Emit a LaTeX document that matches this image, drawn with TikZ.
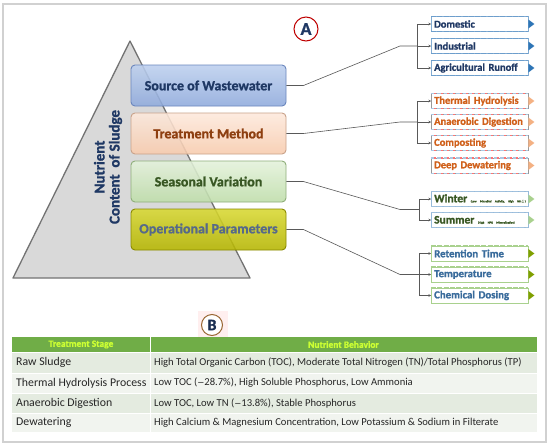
\documentclass[tikz,border=0pt]{standalone}
\usepackage{fontspec}
\setmainfont{Carlito}[BoldFeatures={FakeBold=1.2}]
\usetikzlibrary{arrows.meta,calc}
\definecolor{navy}{HTML}{1F3864}
\definecolor{srcT}{HTML}{BDD0EE}\definecolor{srcB}{HTML}{8FAADC}\definecolor{srcD}{HTML}{6A86BD}
\definecolor{trtT}{HTML}{FDE9DC}\definecolor{trtB}{HTML}{F8CBAD}\definecolor{trtD}{HTML}{C9A28A}\definecolor{trtX}{HTML}{8E3F10}
\definecolor{seaT}{HTML}{E4F2DB}\definecolor{seaB}{HTML}{BEDDA9}\definecolor{seaD}{HTML}{8FAE7A}\definecolor{seaX}{HTML}{385723}
\definecolor{opT}{HTML}{D8D832}\definecolor{opB}{HTML}{B5B500}\definecolor{opD}{HTML}{8A8A00}\definecolor{opX}{HTML}{56698A}
\definecolor{orangeX}{HTML}{D0601A}\definecolor{blueX}{HTML}{2E75B6}\definecolor{steel}{HTML}{3A6C9C}
\definecolor{tipPeach}{HTML}{F4B183}\definecolor{tipGreen}{HTML}{A9D18E}\definecolor{tipOlive}{HTML}{7F9F00}
\definecolor{hdr}{HTML}{70AD47}\definecolor{hdrtxt}{HTML}{CCFF33}
\definecolor{rowA}{HTML}{E4EBE0}\definecolor{rowB}{HTML}{F1F4EF}
\tikzset{
  bar/.style={rounded corners=4pt, line width=0.9pt, minimum width=155pt, minimum height=41pt,
    font=\bfseries\fontsize{14}{16}\selectfont, fill opacity=0.88, text opacity=1},
  rbox/.style={draw=#1, fill=white, line width=0.4pt, minimum height=15pt, text width=91pt,
    inner xsep=3pt, inner ysep=0pt, align=left, anchor=west, font=\bfseries\fontsize{10.5}{11}\selectfont},
  dashl/.style={line width=1.4pt, dash pattern=on 5pt off 1.3pt},
  conn/.style={draw=black!65, line width=0.6pt},
  arr/.style={conn, -{Stealth[length=2.5pt,width=2.5pt]}},
  cell/.style={anchor=west, inner sep=0pt, font=\fontsize{10.6}{11}\selectfont, text=black!85},
  cella/.style={cell, font=\fontsize{11.8}{12}\selectfont},
  hcell/.style={inner sep=0pt, font=\bfseries\fontsize{9.5}{10}\selectfont, text=hdrtxt}
}
\newcommand{\tipR}[2]{\fill[#2] ([yshift=4.5pt]#1.east) -- ([xshift=6pt]#1.east) -- ([yshift=-4.5pt]#1.east) -- cycle;}
\begin{document}
\begin{tikzpicture}[x=1pt,y=-1pt]
\useasboundingbox (0,0) rectangle (550,445);
\fill[white] (0,0) rectangle (550,445);
\draw[black!18, line width=1.5pt] (3,4) rectangle (546,442);

% triangle
\draw[fill=black!15, draw=black!55, line width=1.3pt, line join=round] (130,41) -- (250,278) -- (13,278) -- cycle;
\node[rotate=90, align=center, text=navy, font=\bfseries\fontsize{15}{15}\selectfont] (title) at (108,167) {Nutrient\\Content\ \ of Sludge};

% bars
\node[bar, top color=srcT, bottom color=srcB, draw=srcD, text=navy] (src) at (208.5,85.5) {Source of Wastewater};
\node[bar, top color=trtT, bottom color=trtB, draw=trtD, text=trtX] (trt) at (208.5,133.5) {Treatment Method};
\node[bar, top color=seaT, bottom color=seaB, draw=seaD, text=seaX] (sea) at (208.5,181.5) {Seasonal Variation};
\node[bar, top color=opT, bottom color=opB, draw=opD, text=opX] (op) at (208.5,229.5) {Operational Parameters};

% circle A
\node[circle, draw=red!75!black, line width=1pt, fill=white, minimum size=24pt, inner sep=0pt, text=navy, font=\bfseries\fontsize{18}{18}\selectfont] (cA) at (306,29) {A};

% right boxes
\node[rbox=blueX!60, text=navy] (dom) at (431,24) {Domestic};
\node[rbox=blueX!60, text=navy] (ind) at (431,46) {Industrial};
\node[rbox=blueX!60, text=navy] (agr) at (431,68) {Agricultural Runoff};
\node[rbox=black!40, text=orangeX] (thh) at (431,101) {Thermal Hydrolysis};
\node[rbox=black!40, text=orangeX] (ana) at (431,122) {Anaerobic Digestion};
\node[rbox=black!40, text=orangeX] (com) at (431,143) {Composting};
\node[rbox=black!40, text=orangeX] (dew) at (431,165.5) {Deep Dewatering};
\node[rbox=blueX!50, text=seaX] (win) at (431,199) {\mbox{{\fontsize{11.5}{11}\selectfont Winter} {\fontsize{2.9}{3}\selectfont (Low Microbial Activity, High NH$_4$)}}};
\node[rbox=blueX!50, text=seaX] (sum) at (431,220) {\mbox{{\fontsize{11.5}{11}\selectfont Summer} {\fontsize{2.9}{3}\selectfont (High NPK Mineralization)}}};
\node[rbox=tipGreen, text=steel, font=\bfseries\fontsize{10.8}{11}\selectfont] (ret) at (431,253.5) {Retention Time};
\node[rbox=tipGreen, text=steel, font=\bfseries\fontsize{10.8}{11}\selectfont] (tem) at (431,274.5) {Temperature};
\node[rbox=tipGreen, text=steel, font=\bfseries\fontsize{10.8}{11}\selectfont] (chd) at (431,295.5) {Chemical Dosing};

\foreach \n/\c in {dom/blueX!70,ind/blueX!70,agr/blueX!70,win/blueX!45,sum/blueX!45,ret/tipGreen,tem/tipGreen,chd/tipGreen}{
  \draw[dashl, \c] (\n.north west) -- (\n.north east);
  \draw[dashl, \c] (\n.south west) -- (\n.south east);
}
\foreach \n in {thh,ana,com,dew}{
  \draw[dashl, blueX!40] (\n.north west) -- (\n.north east);
  \draw[dashl, red!55, dash phase=3pt, dash pattern=on 2pt off 4.3pt] (\n.north west) -- (\n.north east);
  \draw[dashl, blueX!40] (\n.south west) -- (\n.south east);
  \draw[dashl, red!55, dash phase=3pt, dash pattern=on 2pt off 4.3pt] (\n.south west) -- (\n.south east);
}
\foreach \n in {dom,ind,agr}{\tipR{\n}{blueX}}
\foreach \n in {thh,ana,com,dew}{\tipR{\n}{tipPeach}}
\foreach \n in {win,sum}{\tipR{\n}{tipGreen}}
\foreach \n in {ret,tem,chd}{\tipR{\n}{tipOlive}}

% connectors
\coordinate (k1) at (400,46); \coordinate (b1) at (417,46);
\coordinate (k2) at (400,122); \coordinate (b2) at (417,122);
\coordinate (k3) at (400,209.5); \coordinate (b3) at (419,209.5);
\coordinate (k4) at (400,274.5); \coordinate (b4) at (419,274.5);
\draw[conn] (src.east) -- ++(17,0) -- (k1) -- (b1);
\draw[conn] (trt.east) -- ++(17,0) -- (k2) -- (b2);
\draw[conn] (sea.east) -- ++(17,0) -- (k3) -- (b3);
\draw[conn] (op.east) -- ++(17,0) -- (k4) -- (b4);
\draw[arr] (b1) |- (dom.west); \draw[arr] (b1) -- (ind.west); \draw[arr] (b1) |- (agr.west);
\draw[arr] (b2) |- (thh.west); \draw[arr] (b2) -- (ana.west); \draw[arr] (b2) |- (com.west);
\draw[arr] (b3) |- (win.west); \draw[arr] (b3) |- (sum.west);
\draw[arr] (b4) |- (ret.west); \draw[arr] (b4) -- (tem.west); \draw[arr] (b4) |- (chd.west);

% circle B
\fill[pink!25] (198,311) rectangle (228,339);
\node[circle, draw=brown!80!black, line width=1pt, fill=white, minimum size=21pt, inner sep=0pt, text=navy!80!black, font=\bfseries\fontsize{16}{16}\selectfont] (cB) at (212,325) {B};

% table
\fill[hdr] (12,337) rectangle (537,352);
\fill[rowA] (12,352) rectangle (537,373);
\fill[rowB] (12,373) rectangle (537,393);
\fill[rowA] (12,393) rectangle (537,413);
\fill[rowB] (12,413) rectangle (537,432);
\foreach \yy in {352,373,393,413}{\draw[white, line width=0.8pt] (12,\yy) -- (537,\yy);}
\draw[white, line width=0.8pt] (150,337) -- (150,432);
\node[hcell] (h1) at (81,344.5) {Treatment Stage};
\node[hcell] (h2) at (343.5,344.5) {Nutrient Behavior};
\node[cella] (r1a) at (16,362.5) {Raw Sludge};
\node[cell] (r1b) at (154,362.5) {High Total Organic Carbon (TOC), Moderate Total Nitrogen (TN)/Total Phosphorus (TP)};
\node[cella] (r2a) at (16,383) {Thermal Hydrolysis Process};
\node[cell] (r2b) at (154,383) {Low TOC ({\fontspec{DejaVu Sans}\fontsize{8.5}{9}\selectfont−}28.7\%), High Soluble Phosphorus, Low Ammonia};
\node[cella] (r3a) at (16,403) {Anaerobic Digestion};
\node[cell] (r3b) at (154,403) {Low TOC, Low TN ({\fontspec{DejaVu Sans}\fontsize{8.5}{9}\selectfont−}13.8\%), Stable Phosphorus};
\node[cella] (r4a) at (16,422.5) {Dewatering};
\node[cell] (r4b) at (154,422.5) {High Calcium \& Magnesium Concentration, Low Potassium \& Sodium in Filterate};
\end{tikzpicture}
\end{document}
